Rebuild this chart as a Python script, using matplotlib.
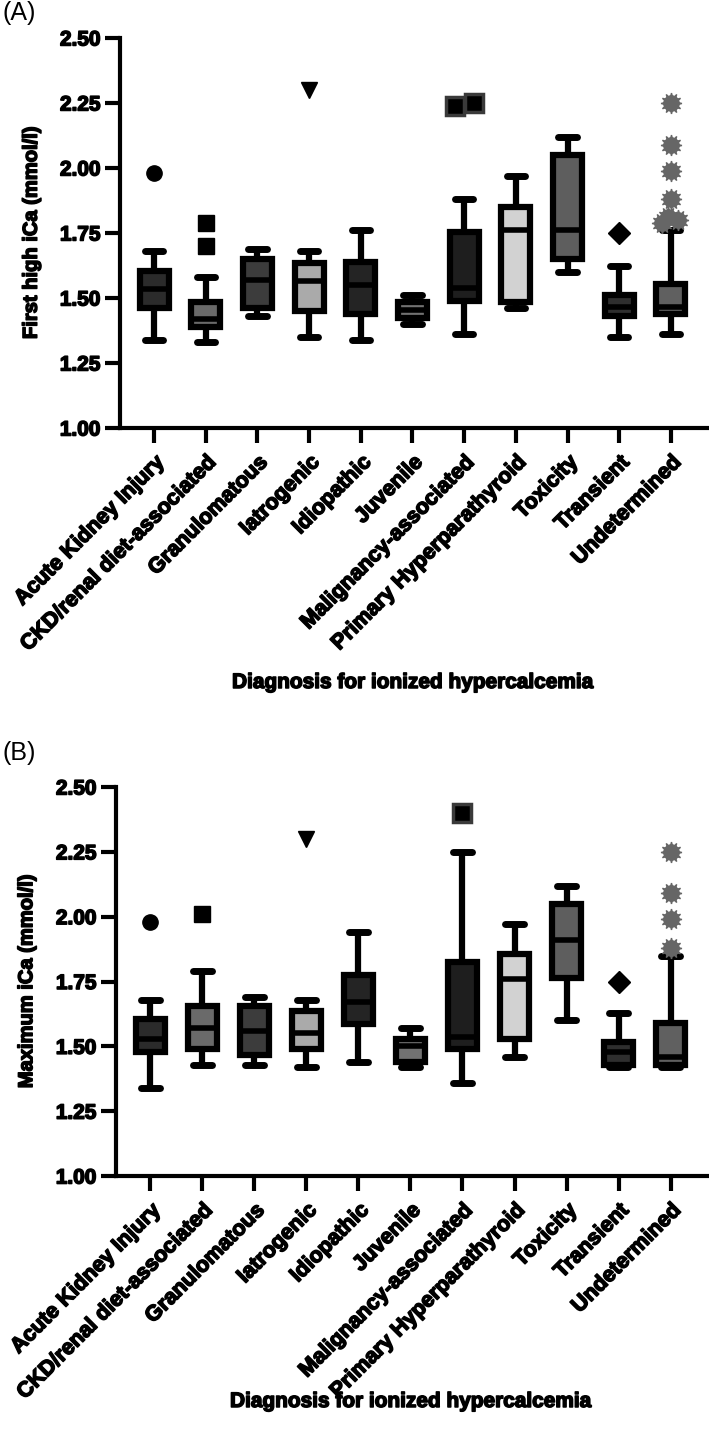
import matplotlib
matplotlib.use("Agg")
import matplotlib.pyplot as plt
import matplotlib.patheffects as pe
from matplotlib.text import Text

plt.rcParams['font.family'] = ['Liberation Sans', 'DejaVu Sans']
plt.rcParams['font.weight'] = 'bold'

categories = ['Acute Kidney Injury', 'CKD/renal diet-associated', 'Granulomatous',
              'Iatrogenic', 'Idiopathic', 'Juvenile', 'Malignancy-associated',
              'Primary Hyperparathyroid', 'Toxicity', 'Transient', 'Undetermined']
fill_colors = ['#2b2b2b', '#6a6a6a', '#3c3c3c', '#aaaaaa', '#242424', '#727272',
               '#1e1e1e', '#d2d2d2', '#5e5e5e', '#2e2e2e', '#606060']

# (A) first high iCa - box summaries
a_whislo = [1.34, 1.33, 1.43, 1.35, 1.34, 1.40, 1.36, 1.46, 1.60, 1.35, 1.36]
a_q1     = [1.46, 1.39, 1.46, 1.45, 1.44, 1.425, 1.49, 1.485, 1.65, 1.43, 1.44]
a_med    = [1.535, 1.42, 1.57, 1.565, 1.55, 1.455, 1.54, 1.76, 1.76, 1.465, 1.465]
a_q3     = [1.605, 1.485, 1.65, 1.635, 1.64, 1.485, 1.755, 1.85, 2.05, 1.51, 1.555]
a_whishi = [1.68, 1.58, 1.69, 1.68, 1.76, 1.51, 1.88, 1.97, 2.12, 1.625, 1.76]
# (A) outliers: category index, horizontal jitter, value
a_out_cat = [0, 1, 1, 3, 6, 6, 9, 10, 10, 10, 10, 10, 10, 10]
a_out_dx  = [0, 0, 0, 0, -0.17, 0.19, 0, 0, 0, 0, 0, -0.18, -0.05, 0.13]
a_out_val = [1.98, 1.79, 1.70, 2.30, 2.24, 2.25, 1.75, 2.25, 2.09, 1.99, 1.88, 1.79, 1.81, 1.80]

# (B) maximum iCa - box summaries
b_whislo = [1.34, 1.43, 1.43, 1.42, 1.44, 1.42, 1.36, 1.46, 1.60, 1.42, 1.42]
b_q1     = [1.48, 1.49, 1.465, 1.49, 1.585, 1.44, 1.49, 1.53, 1.765, 1.43, 1.43]
b_med    = [1.53, 1.57, 1.56, 1.55, 1.67, 1.50, 1.535, 1.76, 1.91, 1.48, 1.46]
b_q3     = [1.605, 1.655, 1.655, 1.635, 1.775, 1.53, 1.825, 1.855, 2.05, 1.515, 1.59]
b_whishi = [1.68, 1.79, 1.69, 1.68, 1.94, 1.57, 2.25, 1.97, 2.12, 1.63, 1.85]
b_out_cat = [0, 1, 3, 6, 9, 10, 10, 10, 10]
b_out_dx  = [0, 0, 0, 0, 0, 0, 0, 0, 0]
b_out_val = [1.98, 2.01, 2.30, 2.40, 1.75, 2.25, 2.09, 1.99, 1.88]

# outlier symbol per category
out_style = {
    0: dict(marker='o', ms=11, mfc='black', mec='black'),
    1: dict(marker='s', ms=11, mfc='black', mec='black'),
    3: dict(marker='v', ms=12, mfc='black', mec='black'),
    6: dict(marker='s', ms=13, mfc='black', mec='#3a3a3a', mew=2.5),
    9: dict(marker='D', ms=11, mfc='black', mec='black'),
    10: dict(marker=(12, 1, 0), ms=15, mfc='#666666', mec='#666666'),
}

yticks = [1.00, 1.25, 1.50, 1.75, 2.00, 2.25, 2.50]


def draw_panel(ax, whislo, q1, med, q3, whishi, out_cat, out_dx, out_val, ylabel, xlabel_y):
    stats = []
    for i in range(len(categories)):
        stats.append(dict(whislo=whislo[i], q1=q1[i], med=med[i], q3=q3[i],
                          whishi=whishi[i], fliers=[]))
    bp = ax.bxp(stats, positions=range(len(categories)), widths=0.56, capwidths=0.36,
                patch_artist=True, showfliers=False,
                boxprops=dict(linewidth=4.5, edgecolor='black'),
                whiskerprops=dict(linewidth=4.5, color='black', solid_capstyle='butt'),
                capprops=dict(linewidth=5, color='black', solid_capstyle='round'),
                medianprops=dict(linewidth=4, color='black', solid_capstyle='butt'))
    for patch, c in zip(bp['boxes'], fill_colors):
        patch.set_facecolor(c)
        patch.set_joinstyle('miter')

    for c, dx, v in zip(out_cat, out_dx, out_val):
        st = out_style[c]
        if c == 10:
            ax.plot(c + dx, v, marker='o', ms=11, color='#666666', ls='none', zorder=4)
        ax.plot(c + dx, v, ls='none', zorder=5, **st)

    ax.set_xlim(-0.66, 10.7)
    ax.set_ylim(1.0, 2.5)
    ax.set_yticks(yticks)
    ax.set_yticklabels(['%.2f' % t for t in yticks], fontsize=15, fontweight='bold')
    ax.set_xticks(range(len(categories)))
    ax.set_xticklabels(categories, rotation=45, ha='right', rotation_mode='anchor',
                       fontsize=15.5, fontweight='bold')
    ax.tick_params(axis='both', length=11, width=3, pad=3)
    ax.tick_params(axis='x', pad=6)
    for s in ['top', 'right']:
        ax.spines[s].set_visible(False)
    for s in ['left', 'bottom']:
        ax.spines[s].set_linewidth(3)
    ax.set_ylabel(ylabel, fontsize=14.5, fontweight='bold')
    ax.yaxis.set_label_coords(-0.135, 0.5)
    ax.set_xlabel('Diagnosis for ionized hypercalcemia', fontsize=15, fontweight='bold')
    ax.xaxis.set_label_coords(0.5, xlabel_y)


fig = plt.figure(figsize=(7.09, 14.33), dpi=100)
ax1 = fig.add_axes([0.1693, 0.7013, 0.8279, 0.2722])
ax2 = fig.add_axes([0.1636, 0.1793, 0.8336, 0.2715])

draw_panel(ax1, a_whislo, a_q1, a_med, a_q3, a_whishi, a_out_cat, a_out_dx, a_out_val,
           'First high iCa (mmol/l)', -0.628)
draw_panel(ax2, b_whislo, b_q1, b_med, b_q3, b_whishi, b_out_cat, b_out_dx, b_out_val,
           'Maximum iCa (mmol/l)', -0.555)

# make the bold text heavier, like the original
for t in fig.findobj(Text):
    t.set_path_effects([pe.withStroke(linewidth=1.1, foreground='black')])

fig.text(0.004, 0.999, '(A)', fontsize=18, fontweight='normal', va='top', ha='left')
fig.text(0.004, 0.483, '(B)', fontsize=18, fontweight='normal', va='top', ha='left')

fig.savefig('out.png', dpi=100)
